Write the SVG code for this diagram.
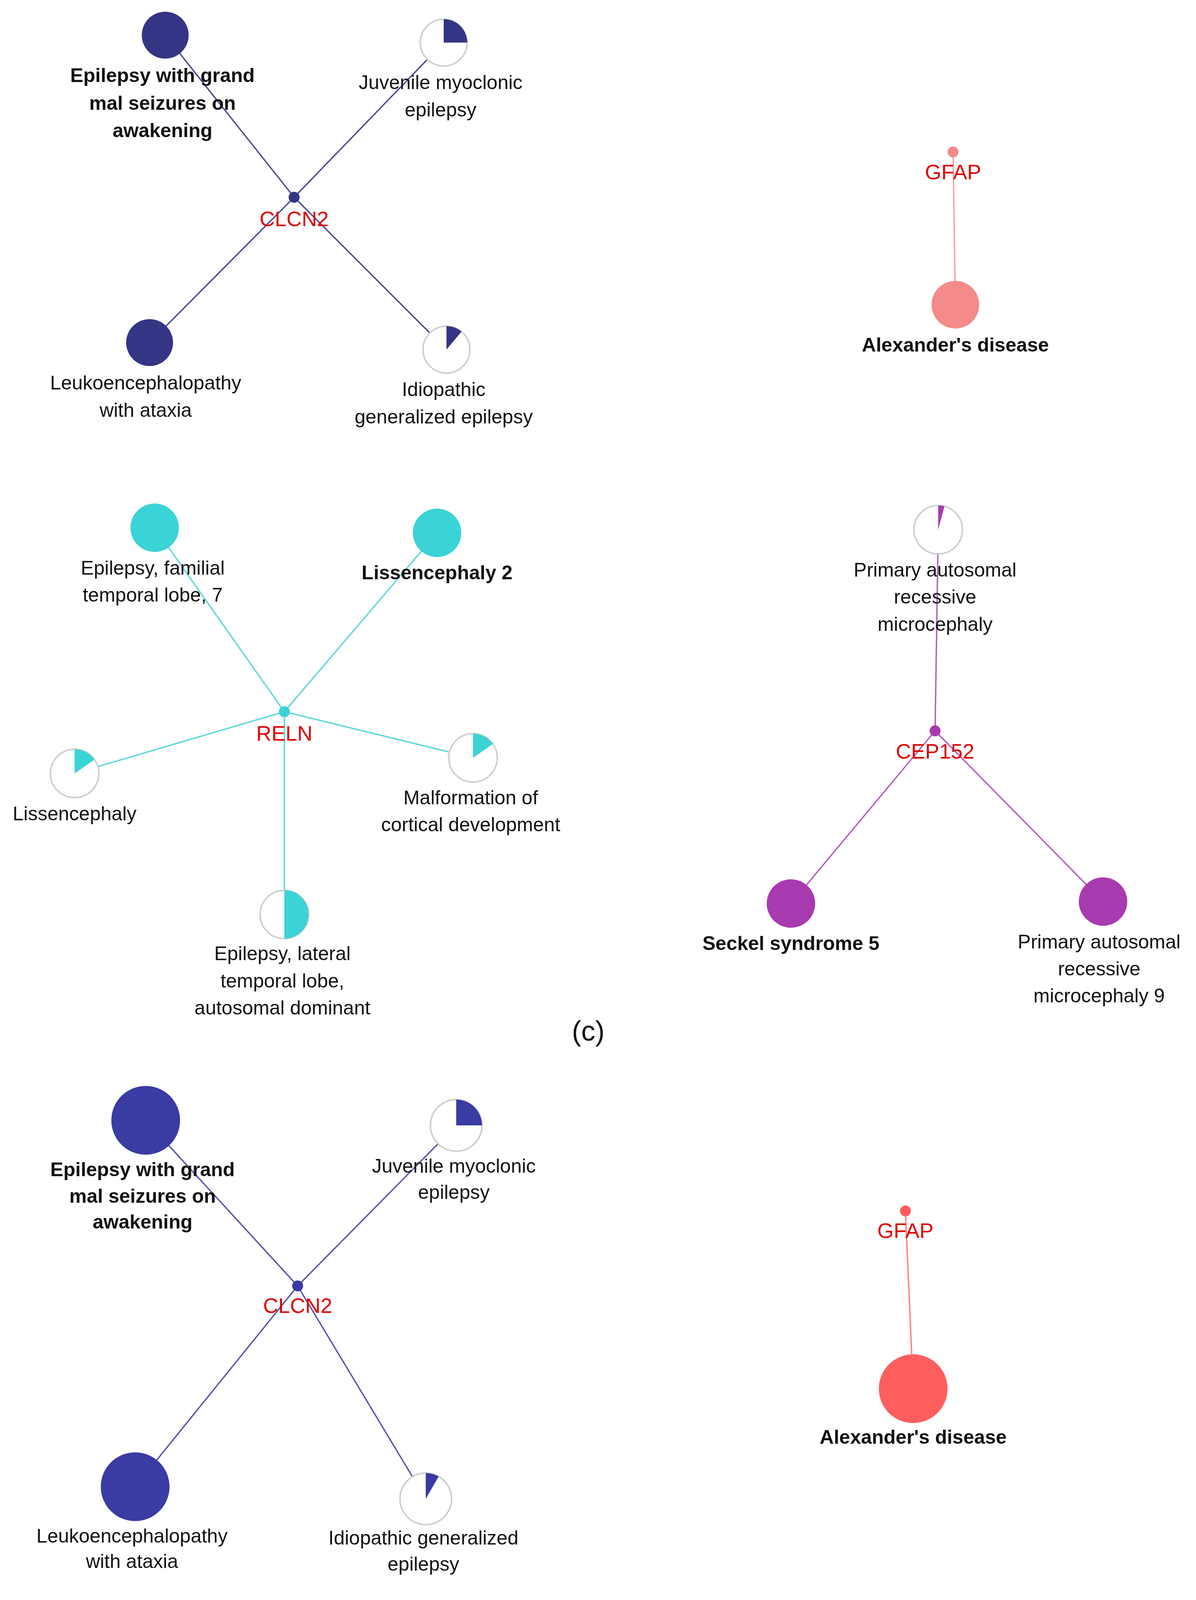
<svg xmlns="http://www.w3.org/2000/svg" width="3062" height="5519" viewBox="0 0 3062 5519">
<style>
text{font-family:"Liberation Sans",Arial,sans-serif;font-size:50px;fill:#111;text-anchor:middle}
.b{font-weight:bold}
.g{fill:#e00000;font-size:54px}
.cap{font-size:72px;fill:#111}
.e{stroke-width:3.5;fill:none}
.empty{fill:#fff;stroke:#cfcfcf;stroke-width:4}
</style>
<rect width="3062" height="5519" fill="#fff"/>
<g id="connectors">
<g stroke="#4a4a95" class="e">
<line x1="753" y1="505" x2="423" y2="90"/><line x1="753" y1="505" x2="1136" y2="109"/>
<line x1="753" y1="505" x2="383" y2="877"/><line x1="753" y1="505" x2="1143" y2="895"/>
</g>
<line class="e" stroke="#f5a0a0" x1="2440" y1="389" x2="2446" y2="780"/>
<g stroke="#5ad8da" class="e">
<line x1="728" y1="1822" x2="396" y2="1351"/><line x1="728" y1="1822" x2="1119" y2="1364"/>
<line x1="728" y1="1822" x2="191" y2="1980"/><line x1="728" y1="1822" x2="1211" y2="1940"/>
<line x1="728" y1="1822" x2="728" y2="2341"/>
</g>
<g stroke="#b45cba" class="e">
<line x1="2394" y1="1871" x2="2402" y2="1356"/><line x1="2394" y1="1871" x2="2025" y2="2313"/>
<line x1="2394" y1="1871" x2="2824" y2="2308"/>
</g>
<g stroke="#5555b0" class="e">
<line x1="762" y1="3292" x2="373" y2="2868"/><line x1="762" y1="3292" x2="1168" y2="2881"/>
<line x1="762" y1="3292" x2="346" y2="3806"/><line x1="762" y1="3292" x2="1090" y2="3837"/>
</g>
<line class="e" stroke="#ff8080" x1="2318" y1="3100" x2="2338" y2="3555"/>
<g stroke="#4f9a94" class="e">
<line x1="740" y1="4800" x2="725" y2="4351"/><line x1="740" y1="4800" x2="307" y2="5128"/>
<line x1="740" y1="4800" x2="1125" y2="5153"/>
</g>
<g stroke="#95589a" class="e">
<line x1="2293" y1="4767" x2="2289" y2="4334"/><line x1="2293" y1="4767" x2="1933" y2="5073"/>
<line x1="2293" y1="4767" x2="2724" y2="5088"/>
</g>
</g>

<!-- section 1 -->
<g id="clcn2-a"><circle cx="753" cy="505" r="14" fill="#343584"/><text class="g" x="753" y="579">CLCN2</text></g>
<g id="egm-a"><circle cx="423" cy="90" r="60" fill="#343584"/><text class="b" x="416" y="210">Epilepsy with grand</text><text class="b" x="416" y="281">mal seizures on</text><text class="b" x="416" y="351">awakening</text></g>
<g id="jme-a"><circle class="empty" cx="1136" cy="109" r="60"/><path d="M1136,109 L1136,49 A60,60 0 0 1 1196,109 Z" fill="#343584"/><text x="1128" y="228">Juvenile myoclonic</text><text x="1128" y="298">epilepsy</text></g>
<g id="leuko-a"><circle cx="383" cy="877" r="60" fill="#343584"/><text x="373" y="997">Leukoencephalopathy</text><text x="373" y="1067">with ataxia</text></g>
<g id="ige-a"><circle class="empty" cx="1143" cy="895" r="60"/><path d="M1143,895 L1143,835 A60,60 0 0 1 1181.6,849 Z" fill="#343584"/><text x="1136" y="1014">Idiopathic</text><text x="1136" y="1084">generalized epilepsy</text></g>
<g id="gfap-a"><circle cx="2440" cy="389" r="14" fill="#f58a8a"/><text class="g" x="2440" y="459">GFAP</text></g>
<g id="alex-a"><circle cx="2446" cy="780" r="61" fill="#f58a8a"/><text class="b" x="2446" y="900">Alexander's disease</text></g>

<!-- section 2 -->
<g id="reln"><circle cx="728" cy="1822" r="14" fill="#3ad3d6"/><text class="g" x="728" y="1896">RELN</text></g>
<g id="eftl7"><circle cx="396" cy="1351" r="62" fill="#3ad3d6"/><text x="391" y="1471">Epilepsy, familial</text><text x="391" y="1540">temporal lobe, 7</text></g>
<g id="liss2"><circle cx="1119" cy="1364" r="62" fill="#3ad3d6"/><text class="b" x="1119" y="1483">Lissencephaly 2</text></g>
<g id="liss-c"><circle class="empty" cx="191" cy="1980" r="62"/><path d="M191,1980 L191,1918 A62,62 0 0 1 241.8,1944.4 Z" fill="#3ad3d6"/><text x="191" y="2100">Lissencephaly</text></g>
<g id="mcd-c"><circle class="empty" cx="1211" cy="1940" r="62"/><path d="M1211,1940 L1211,1878 A62,62 0 0 1 1261.8,1904.4 Z" fill="#3ad3d6"/><text x="1205" y="2059">Malformation of</text><text x="1205" y="2128">cortical development</text></g>
<g id="eltl"><circle class="empty" cx="728" cy="2341" r="62"/><path d="M728,2341 L728,2279 A62,62 0 0 1 728,2403 Z" fill="#3ad3d6"/><text x="723" y="2458">Epilepsy, lateral</text><text x="723" y="2528">temporal lobe,</text><text x="723" y="2597">autosomal dominant</text></g>
<g id="cep152-c"><circle cx="2394" cy="1871" r="14" fill="#a83ab0"/><text class="g" x="2394" y="1942">CEP152</text></g>
<g id="parm-c"><circle class="empty" cx="2402" cy="1356" r="62"/><path d="M2402,1356 L2402,1294 A62,62 0 0 1 2418,1296.1 Z" fill="#a83ab0"/><text x="2394" y="1476">Primary autosomal</text><text x="2394" y="1545">recessive</text><text x="2394" y="1615">microcephaly</text></g>
<g id="seckel-c"><circle cx="2025" cy="2313" r="62" fill="#a83ab0"/><text class="b" x="2025" y="2432">Seckel syndrome 5</text></g>
<g id="parm9-c"><circle cx="2824" cy="2308" r="62" fill="#a83ab0"/><text x="2814" y="2428">Primary autosomal</text><text x="2814" y="2497">recessive</text><text x="2814" y="2566">microcephaly 9</text></g>
<text class="cap" x="1506" y="2664">(c)</text>

<!-- section 3 -->
<g id="clcn2-d"><circle cx="762" cy="3292" r="14" fill="#3a3ba3"/><text class="g" x="762" y="3361">CLCN2</text></g>
<g id="egm-d"><circle cx="373" cy="2868" r="88" fill="#3a3ba3"/><text class="b" x="365" y="3011">Epilepsy with grand</text><text class="b" x="365" y="3079">mal seizures on</text><text class="b" x="365" y="3145">awakening</text></g>
<g id="jme-d"><circle class="empty" cx="1168" cy="2881" r="66"/><path d="M1168,2881 L1168,2815 A66,66 0 0 1 1234,2881 Z" fill="#3a3ba3"/><text x="1162" y="3002">Juvenile myoclonic</text><text x="1162" y="3069">epilepsy</text></g>
<g id="leuko-d"><circle cx="346" cy="3806" r="88" fill="#3a3ba3"/><text x="338" y="3949">Leukoencephalopathy</text><text x="338" y="4014">with ataxia</text></g>
<g id="ige-d"><circle class="empty" cx="1090" cy="3837" r="66"/><path d="M1090,3837 L1090,3771 A66,66 0 0 1 1123,3779.8 Z" fill="#3a3ba3"/><text x="1084" y="3954">Idiopathic generalized</text><text x="1084" y="4021">epilepsy</text></g>
<g id="gfap-d"><circle cx="2318" cy="3100" r="14" fill="#ff5e5e"/><text class="g" x="2318" y="3169">GFAP</text></g>
<g id="alex-d"><circle cx="2338" cy="3555" r="88" fill="#ff5e5e"/><text class="b" x="2338" y="3696">Alexander's disease</text></g>

<!-- section 4 -->
<g id="dcx"><circle cx="740" cy="4800" r="14" fill="#358882"/><text class="g" x="740" y="4872">DCX</text></g>
<g id="liss-d"><circle class="empty" cx="725" cy="4351" r="66"/><path d="M725,4351 L725,4285 A66,66 0 0 1 779.1,4313.1 Z" fill="#358882"/><text x="725" y="4475">Lissencephaly</text></g>
<g id="lissx"><circle cx="307" cy="5128" r="88" fill="#358882"/><text class="b" x="299" y="5274">Lissencephaly,</text><text class="b" x="299" y="5338">X-linked</text></g>
<g id="mcd-d"><circle class="empty" cx="1125" cy="5153" r="66"/><path d="M1125,5153 L1125,5087 A66,66 0 0 1 1175.6,5110.6 Z" fill="#358882"/><text x="1117" y="5274">Malformation of cortical</text><text x="1117" y="5341">development</text></g>
<g id="cep152-d"><circle cx="2293" cy="4767" r="14" fill="#843786"/><text class="g" x="2293" y="4838">CEP152</text></g>
<g id="parm-d"><circle class="empty" cx="2289" cy="4334" r="66"/><path d="M2289,4334 L2289,4268 A66,66 0 0 1 2306.1,4270.2 Z" fill="#843786"/><text x="2281" y="4460">Primary autosomal</text><text x="2281" y="4526">recessive microcephaly</text></g>
<g id="seckel-d"><circle cx="1933" cy="5073" r="88" fill="#843786"/><text class="b" x="1933" y="5217">Seckel syndrome 5</text></g>
<g id="parm9-d"><circle cx="2724" cy="5088" r="88" fill="#843786"/><text x="2717" y="5232">Primary autosomal</text><text x="2717" y="5298">recessive microcephaly</text><text x="2717" y="5364">9</text></g>
<text class="cap" x="1504" y="5470">(d)</text>
</svg>
